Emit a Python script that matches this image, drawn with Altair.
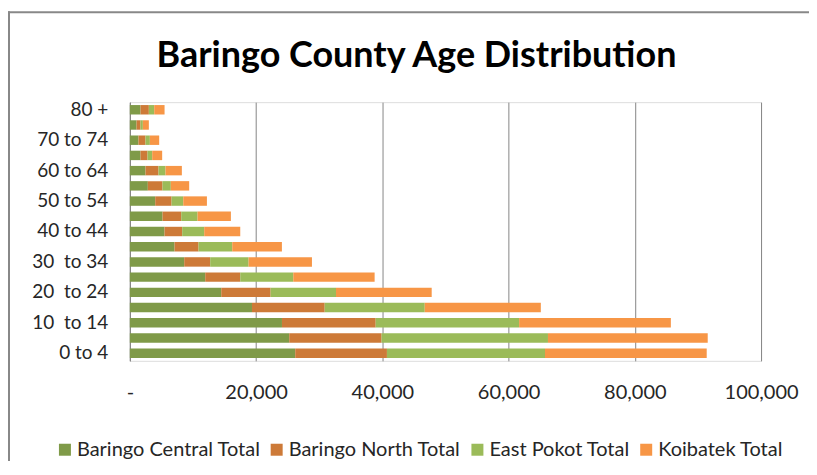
import altair as alt
import pandas as pd

categories = ["0 to 4", "5 to 9", "10\u00a0 to 14", "15 to 19", "20\u00a0 to 24", "25 to 29",
              "30\u00a0 to 34", "35 to 39", "40 to 44", "45 to 49", "50 to 54", "55 to 59",
              "60 to 64", "65 to 69", "70 to 74", "75 to 79", "80 +"]
shown_labels = ["0 to 4", "10\u00a0 to 14", "20\u00a0 to 24", "30\u00a0 to 34", "40 to 44",
                "50 to 54", "60 to 64", "70 to 74", "80 +"]
series = ["Baringo Central Total", "Baringo North Total", "East Pokot Total", "Koibatek Total"]
colors = ["#7F9A48", "#CD7A38", "#9BBB59", "#F79646"]
chart_title = "Baringo County Age Distribution"

baringo_central = [26200, 25250, 24100, 19350, 14480, 11940, 8610, 7080, 5490, 5180,
                   4020, 2850, 2480, 1690, 1370, 1060, 1690]
baringo_north = [14530, 14630, 14850, 11520, 7820, 5550, 4120, 3800, 2800, 2960,
                 2590, 2320, 2060, 1110, 1110, 630, 1320]
east_pokot = [25040, 26360, 22720, 15850, 10360, 8400, 6080, 5340, 3490, 2590,
              1850, 1320, 1110, 740, 690, 370, 850]
koibatek = [25620, 25310, 24040, 18390, 15160, 12890, 10040, 7870, 5710, 5280,
            3750, 2910, 2590, 1580, 1480, 950, 1640]
x_ticks = [0, 20000, 40000, 60000, 80000, 100000]

rows = []
for si, (name, vals) in enumerate(zip(series, [baringo_central, baringo_north, east_pokot, koibatek])):
    for c, v in zip(categories, vals):
        rows.append({"age": c, "series": name, "value": v, "order": si})
df = pd.DataFrame(rows)

FONT = "Lato"

bars = alt.Chart(df).mark_bar().encode(
    y=alt.Y("age:N", sort=categories[::-1], title=None,
            scale=alt.Scale(paddingInner=0.38, paddingOuter=0.19),
            axis=alt.Axis(values=shown_labels, ticks=False, domain=True, domainColor="#868686",
                          domainWidth=1, labelPadding=22, labelFontSize=19, labelFont=FONT,
                          labelColor="#262626", grid=False)),
    x=alt.X("value:Q", stack="zero", title=None,
            scale=alt.Scale(domain=[0, 100000], nice=False),
            axis=alt.Axis(values=x_ticks, ticks=False, domain=False, grid=True,
                          gridColor="#868686", gridWidth=1, labelPadding=22, labelFlush=False,
                          labelFontSize=20, labelFont=FONT, labelColor="#262626",
                          labelExpr="datum.value == 0 ? '-' : format(datum.value, ',')")),
    color=alt.Color("series:N", sort=series,
                    scale=alt.Scale(domain=series, range=colors),
                    legend=alt.Legend(title=None, orient="none", direction="horizontal",
                                      legendX=-75, legendY=338, symbolType="square",
                                      symbolSize=144, symbolStrokeWidth=0, labelFontSize=20,
                                      labelFont=FONT, labelColor="#262626", labelOffset=2,
                                      labelLimit=0, columnPadding=6, padding=0, columns=4)),
    order=alt.Order("order:Q"),
)

frame_data = alt.Data(values=[{}])
border_top = alt.Chart(frame_data).mark_rule(
    stroke="#888888", strokeWidth=2, clip=False
).encode(x=alt.value(-122), x2=alt.value(700), y=alt.value(-90))
border_left = alt.Chart(frame_data).mark_rule(
    stroke="#888888", strokeWidth=2, clip=False
).encode(x=alt.value(-121), y=alt.value(-91), y2=alt.value(400))

title_mark = alt.Chart(frame_data).mark_text(
    text=chart_title, font=FONT, fontSize=36, fontWeight="bold", color="#000000",
    align="center", baseline="alphabetic", clip=False
).encode(x=alt.value(287), y=alt.value(-35))

chart = alt.layer(border_top, border_left, title_mark, bars).properties(
    width=632, height=259,
    autosize=alt.AutoSizeParams(type="none"),
    padding={"left": 122, "top": 94, "right": 48, "bottom": 100},
).configure_view(stroke=None).configure(background="white")

chart.save("out.html", embed_options={"renderer": "svg", "actions": False})
